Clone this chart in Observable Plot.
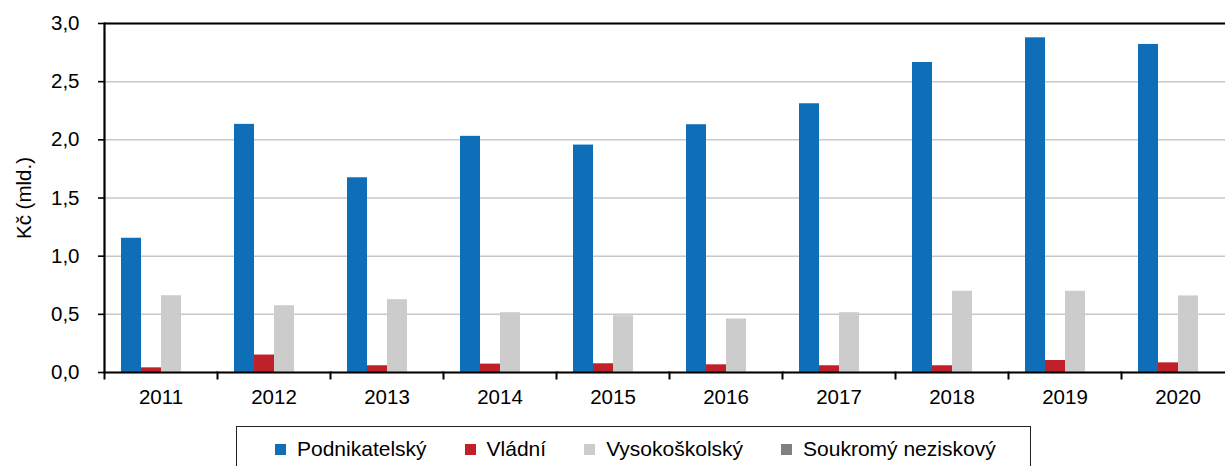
<!DOCTYPE html>
<html>
<head>
<meta charset="utf-8">
<script src="https://cdn.jsdelivr.net/npm/d3@7"></script>
<script src="https://cdn.jsdelivr.net/npm/@observablehq/plot@0.6"></script>
<style>
html, body { margin: 0; padding: 0; background: #fff; overflow: hidden; }
#wrap { position: relative; width: 1225px; height: 466px; overflow: hidden; font-family: "Liberation Sans", Arial, sans-serif; }
#chart { position: absolute; left: 0; top: 0; width: 1240px; }
#chart > svg { max-width: none !important; width: 1240px !important; height: 420px !important; }
#legend { position: absolute; left: 236px; top: 426px; width: 795px; height: 46px; border: 1.5px solid #222; box-sizing: border-box; padding-left: 38px; display: flex; align-items: center; overflow: visible; }
#legend .lg-swatches { font-family: "Liberation Sans", Arial, sans-serif !important; font-size: 21px !important; color: #000 !important; margin: 0 !important; min-height: 0 !important; display: flex; align-items: center; flex-wrap: nowrap !important; white-space: nowrap; width: max-content; }
#legend .lg-swatch { margin-right: 38px !important; display: inline-flex; align-items: center; white-space: nowrap; flex-shrink: 0; }
#legend .lg-swatch > svg { margin-right: 11px !important; flex-shrink: 0; }
</style>
</head>
<body>
<div id="wrap">
  <div id="chart"></div>
  <div id="legend"></div>
</div>
<script>
const years = ["2011", "2012", "2013", "2014", "2015", "2016", "2017", "2018", "2019", "2020"];
const series = ["Podnikatelský", "Vládní", "Vysokoškolský", "Soukromý neziskový"];
const podnikatelsky = [1.154, 2.133, 1.674, 2.03, 1.955, 2.13, 2.31, 2.665, 2.877, 2.82];
const vladni = [0.04, 0.15, 0.058, 0.072, 0.075, 0.066, 0.058, 0.058, 0.103, 0.083];
const vysokoskolsky = [0.66, 0.574, 0.626, 0.514, 0.488, 0.46, 0.514, 0.698, 0.698, 0.658];
const soukromy = [0, 0, 0, 0, 0, 0, 0, 0, 0, 0];
const yTicks = [0, 0.5, 1, 1.5, 2, 2.5, 3];
const yLabel = "Kč (mld.)";
const colors = ["#0e6fb8", "#c0202a", "#cccccc", "#808080"];

const seriesValues = [podnikatelsky, vladni, vysokoskolsky, soukromy];
const data = years.flatMap((year, i) =>
  series.map((s, j) => ({year, series: s, value: seriesValues[j][i]}))
);

const W = 1240, H = 420, mL = 103, mT = 23, mB = 48, mR = 5;
const font = "'Liberation Sans', Arial, sans-serif";
const fmt = d => d.toFixed(1).replace(".", ",");

const chart = Plot.plot({
  width: W,
  height: H,
  marginLeft: mL,
  marginTop: mT,
  marginBottom: mB,
  marginRight: mR,
  style: {fontFamily: font, fontSize: "20px", color: "#000", background: "#fff", overflow: "visible"},
  fx: {domain: years, padding: 0, label: null, axis: null},
  x: {domain: series, paddingInner: 0, paddingOuter: 0.78, axis: null},
  y: {domain: [0, 3], axis: null},
  color: {domain: series, range: colors},
  marks: [
    Plot.gridY(yTicks, {stroke: "#c8c8c8", strokeOpacity: 1, strokeWidth: 1.5}),
    Plot.barY(data, {fx: "year", x: "series", y: "value", fill: "series"}),
    Plot.ruleY([0], {stroke: "#000", strokeWidth: 2.2}),
    Plot.ruleY([3], {stroke: "#000", strokeWidth: 2}),
    Plot.frame({anchor: "left", facetAnchor: "left", stroke: "#000", strokeWidth: 2.2}),
    Plot.frame({anchor: "left", insetTop: H - mT - mB, insetBottom: -6, stroke: "#000", strokeWidth: 2}),
    Plot.axisY(yTicks, {tickSize: 6, tickPadding: 19, tickFormat: fmt, label: null, stroke: "#000", strokeWidth: 1.6, fontSize: 20.5}),
    Plot.axisFx({anchor: "bottom", tickSize: 0, tickPadding: 17, label: null, fontSize: 20.5}),
    Plot.text([yLabel], {frameAnchor: "left", facetAnchor: "left", dx: -80, rotate: -90, lineAnchor: "middle", textAnchor: "middle", fontSize: 20.5, fill: "#000"})
  ]
});
document.getElementById("chart").appendChild(chart);

const legend = chart.legend("color", {swatchSize: 11, className: "lg"});
document.getElementById("legend").appendChild(legend);
</script>
</body>
</html>
